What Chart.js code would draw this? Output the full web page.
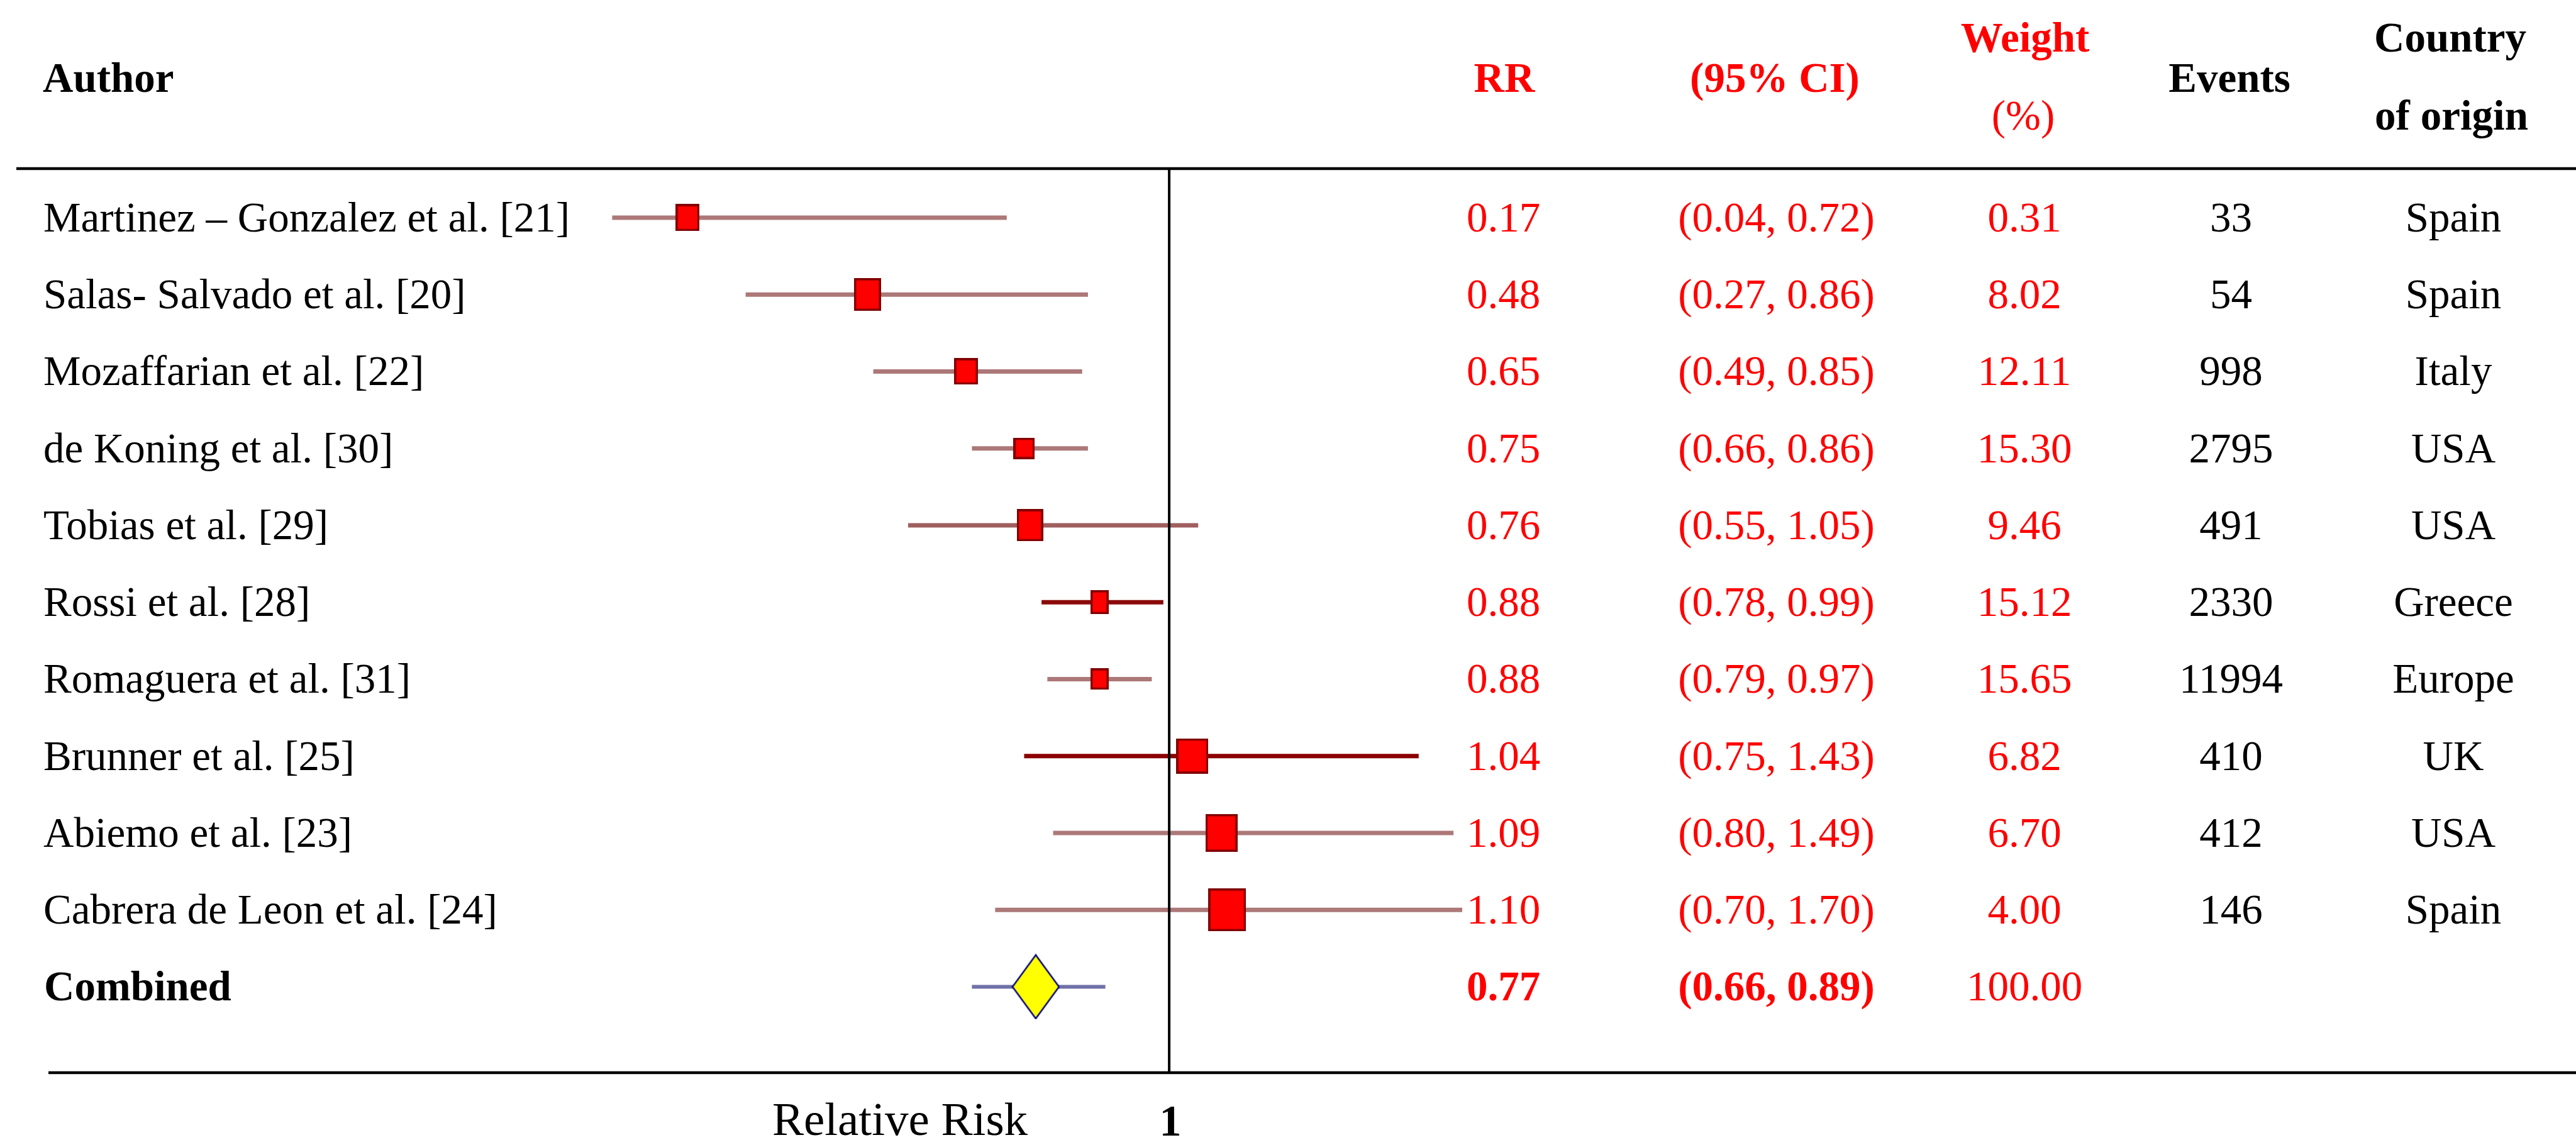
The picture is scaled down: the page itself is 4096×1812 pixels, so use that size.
<!DOCTYPE html>
<html>
<head>
<meta charset="utf-8">
<title>Relative risk forest plot</title>
<script src="https://cdn.jsdelivr.net/npm/chart.js@4/dist/chart.umd.min.js"></script>
<style>
  html, body { margin: 0; padding: 0; background: #ffffff; overflow: hidden; }
  #wrap { width: 4096px; height: 1812px; }
  canvas { display: block; }
</style>
</head>
<body>
<div id="wrap"><canvas id="forest" width="4096" height="1812"></canvas></div>
<script>
// ---- Study data ----
const authors = [
  'Martinez \u2013 Gonzalez et al. [21]',
  'Salas- Salvado et al. [20]',
  'Mozaffarian et al. [22]',
  'de Koning et al. [30]',
  'Tobias et al. [29]',
  'Rossi et al. [28]',
  'Romaguera et al. [31]',
  'Brunner et al. [25]',
  'Abiemo et al. [23]',
  'Cabrera de Leon et al. [24]'
];
const rr      = [0.17, 0.48, 0.65, 0.75, 0.76, 0.88, 0.88, 1.04, 1.09, 1.10];
const ciLow   = [0.04, 0.27, 0.49, 0.66, 0.55, 0.78, 0.79, 0.75, 0.80, 0.70];
const ciHigh  = [0.72, 0.86, 0.85, 0.86, 1.05, 0.99, 0.97, 1.43, 1.49, 1.70];
const weights = [0.31, 8.02, 12.11, 15.30, 9.46, 15.12, 15.65, 6.82, 6.70, 4.00];
const events  = [33, 54, 998, 2795, 491, 2330, 11994, 410, 412, 146];
const countries = ['Spain', 'Spain', 'Italy', 'USA', 'USA', 'Greece', 'Europe', 'UK', 'USA', 'Spain'];

const pooledLabel  = 'Combined';
const pooledRR     = 0.77;
const pooledLow    = 0.66;
const pooledHigh   = 0.89;
const pooledWeight = 100.00;

const xTicks = [1];
const xAxisTitle = 'Relative Risk';

// ---- Styling ----
const SERIF = '"Liberation Serif", "Times New Roman", Times, serif';
const RED = '#ff0000';
const DARK_RED = '#800000';
const boxSizes = [[38, 43], [43, 52], [38, 42], [34, 34], [42, 51], [29, 38], [29, 34], [51, 56], [51, 60], [60, 68]];
const whiskerColors = ['rgb(172,120,120)', 'rgb(172,120,120)', 'rgb(172,120,120)', 'rgb(172,120,120)',
  'rgb(160,95,95)', 'rgb(139,10,10)', 'rgb(172,120,120)', 'rgb(139,0,0)', 'rgb(172,120,120)', 'rgb(172,120,120)'];

function makeBox(w, h) {
  const c = document.createElement('canvas');
  c.width = w; c.height = h;
  const g = c.getContext('2d');
  g.fillStyle = DARK_RED;
  g.fillRect(0, 0, w, h);
  g.fillStyle = '#ff0000';
  g.fillRect(3.5, 3.5, w - 7, h - 7);
  return c;
}
function makeDiamond(w, h) {
  const c = document.createElement('canvas');
  c.width = w; c.height = h;
  const g = c.getContext('2d');
  g.beginPath();
  g.moveTo(w / 2, 1.5);
  g.lineTo(w - 1.5, h / 2);
  g.lineTo(w / 2, h - 1.5);
  g.lineTo(1.5, h / 2);
  g.closePath();
  g.fillStyle = '#ffff00';
  g.fill();
  g.lineWidth = 2.5;
  g.strokeStyle = '#000080';
  g.stroke();
  return c;
}

// ---- Datasets: whiskers, study boxes, pooled diamond ----
const datasets = [];
rr.forEach((v, i) => {
  datasets.push({
    type: 'line',
    data: [{ x: ciLow[i], y: i + 1 }, { x: ciHigh[i], y: i + 1 }],
    borderColor: whiskerColors[i],
    borderWidth: 7,
    pointRadius: 0,
    borderCapStyle: 'butt',
    clip: 0,
    order: 3
  });
});
datasets.push({
  type: 'line',
  data: [{ x: pooledLow, y: rr.length + 1 }, { x: pooledHigh, y: rr.length + 1 }],
  borderColor: 'rgb(112,112,168)',
  borderWidth: 6,
  pointRadius: 0,
  borderCapStyle: 'butt',
  clip: 0,
  order: 3
});
datasets.push({
  type: 'scatter',
  data: rr.map((v, i) => ({ x: v, y: i + 1 })),
  pointStyle: boxSizes.map(s => makeBox(s[0], s[1])),
  pointRadius: 5,
  clip: false,
  order: 1
});
datasets.push({
  type: 'scatter',
  data: [{ x: pooledRR, y: rr.length + 1 }],
  pointStyle: makeDiamond(77, 104),
  pointRadius: 5,
  clip: false,
  order: 0
});

// ---- Table text, rules and the RR = 1 reference line ----
const tablePlugin = {
  id: 'forestTable',
  afterDatasetsDraw(chart) {
    const { ctx, chartArea, scales } = chart;
    const x = scales.x, y = scales.y;
    const W = chart.width;
    ctx.save();

    // horizontal rules
    ctx.fillStyle = '#000';
    ctx.fillRect(26, chartArea.top - 2.25, W - 26, 4.5);
    ctx.fillRect(77, chartArea.bottom - 2.25, W - 77, 4.5);

    // vertical line of no effect
    const x1 = x.getPixelForValue(xTicks[0]);
    ctx.fillRect(x1 - 2, chartArea.top, 4, chartArea.bottom - chartArea.top);

    const text = (s, px, py, font, color, align) => {
      ctx.font = font;
      ctx.fillStyle = color;
      ctx.textAlign = align;
      ctx.textBaseline = 'alphabetic';
      ctx.fillText(s, px, py);
    };
    const reg = '67px ' + SERIF;
    const bold = 'bold 67px ' + SERIF;

    // column headers
    text('Author', 68, 145.5, bold, '#000', 'left');
    text('RR', 2392, 145.5, bold, RED, 'center');
    text('(95% CI)', 2822, 145.5, bold, RED, 'center');
    text('Weight', 3220, 81.5, bold, RED, 'center');
    text('(%)', 3217, 206, reg, RED, 'center');
    text('Events', 3545, 145.5, bold, '#000', 'center');
    text('Country', 3896, 81.5, bold, '#000', 'center');
    text('of origin', 3898, 206, bold, '#000', 'center');

    const colRR = 2390.5, colCI = 2824.5, colW = 3219, colEv = 3547.5, colCo = 3901;
    const ci = (a, b) => '(' + a.toFixed(2) + ', ' + b.toFixed(2) + ')';

    // study rows
    authors.forEach((name, i) => {
      const by = y.getPixelForValue(i + 1) + 22;
      text(name, 69, by, reg, '#000', 'left');
      text(rr[i].toFixed(2), colRR, by, reg, RED, 'center');
      text(ci(ciLow[i], ciHigh[i]), colCI, by, reg, RED, 'center');
      text(weights[i].toFixed(2), colW, by, reg, RED, 'center');
      text(String(events[i]), colEv, by, reg, '#000', 'center');
      text(countries[i], colCo, by, reg, '#000', 'center');
    });

    // pooled row
    const py = y.getPixelForValue(rr.length + 1) + 22;
    text(pooledLabel, 70, py, bold, '#000', 'left');
    text(pooledRR.toFixed(2), colRR, py, bold, RED, 'center');
    text(ci(pooledLow, pooledHigh), colCI, py, bold, RED, 'center');
    text(pooledWeight.toFixed(2), colW, py, reg, RED, 'center');

    // axis label and tick
    text(xAxisTitle, 1431, 1804, '75px ' + SERIF, '#000', 'center');
    xTicks.forEach(t => {
      text(String(t), x.getPixelForValue(t) + 2, 1805, 'bold 70px ' + SERIF, '#000', 'center');
    });

    ctx.restore();
  }
};

new Chart(document.getElementById('forest'), {
  type: 'scatter',
  data: { datasets },
  options: {
    responsive: false,
    animation: false,
    events: [],
    layout: { padding: { left: 936.5, right: 4096 - 2325, top: 268, bottom: 1812 - 1705 } },
    scales: {
      x: { type: 'linear', min: 0, max: 1.505, display: false },
      y: { type: 'linear', min: 0.363, max: 12.117, reverse: true, display: false }
    },
    plugins: {
      legend: { display: false },
      tooltip: { enabled: false },
      title: { display: false }
    }
  },
  plugins: [tablePlugin]
});
</script>
</body>
</html>
